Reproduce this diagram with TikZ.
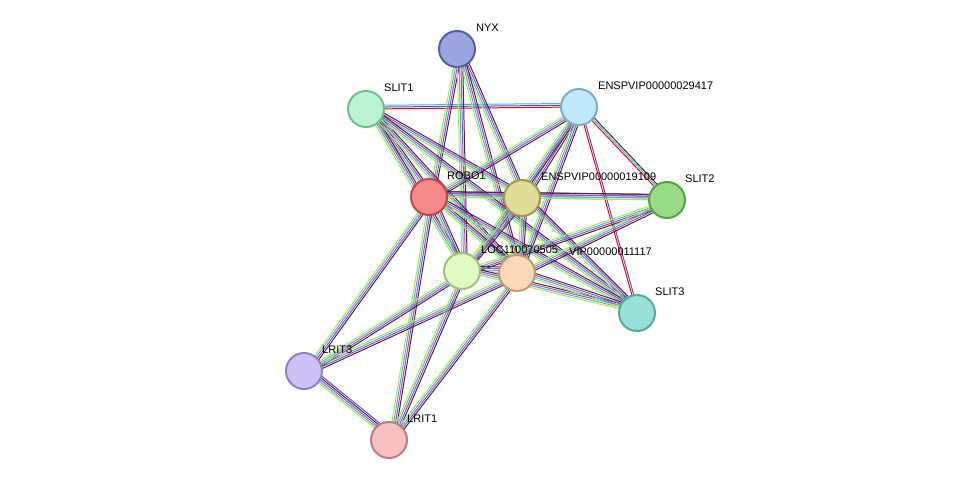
\documentclass[tikz,border=0pt]{standalone}
\usepackage{fontspec}
\setmainfont{Liberation Sans}
\usetikzlibrary{calc}
\pgfdeclarelayer{bg}
\pgfsetlayers{bg,main}
\definecolor{tm}{HTML}{B8E04A}
\definecolor{cu}{HTML}{30C0D8}
\definecolor{ex}{HTML}{D030D0}
\definecolor{co}{HTML}{333333}
\definecolor{ho}{HTML}{5050E0}
\tikzset{
 prot/.style={circle,minimum size=36pt,inner sep=0pt,line width=2pt},
 lab/.style={anchor=west,font=\fontsize{11}{12}\selectfont,inner sep=1pt},
}
\newcommand{\stredge}[3]{%
 \foreach \c [count=\i] in {#3}{%
  \pgfmathsetmacro{\off}{(\i-1)*1.8}%
  \draw[\c,line width=1pt] ($(#1)!\off pt!90:(#2)$) -- ($(#2)!\off pt!-90:(#1)$);}}
\begin{document}
\begin{tikzpicture}[x=1pt,y=-1pt]
\useasboundingbox (0,0) rectangle (975,486);
\node[prot,fill={rgb,255:red,154;green,165;blue,224},draw={rgb,255:red,85;green,96;blue,160}] (nyx) at (457,49) {};
\node[prot,fill={rgb,255:red,184;green,245;blue,212},draw={rgb,255:red,122;green,184;blue,144}] (slit1) at (366,109) {};
\node[prot,fill={rgb,255:red,192;green,232;blue,251},draw={rgb,255:red,128;green,170;blue,200}] (e29) at (579,107) {};
\node[prot,fill={rgb,255:red,244;green,138;blue,138},draw={rgb,255:red,192;green,72;blue,72}] (robo1) at (429,197) {};
\node[prot,fill={rgb,255:red,224;green,220;blue,152},draw={rgb,255:red,160;green,154;blue,80}] (e19) at (522,198) {};
\node[prot,fill={rgb,255:red,152;green,220;blue,136},draw={rgb,255:red,90;green,159;blue,74}] (slit2) at (667,200) {};
\node[prot,fill={rgb,255:red,224;green,252;blue,192},draw={rgb,255:red,160;green,192;blue,128}] (loc) at (462,271) {};
\node[prot,fill={rgb,255:red,252;green,216;blue,184},draw={rgb,255:red,192;green,154;blue,120}] (vip) at (517,273) {};
\node[prot,fill={rgb,255:red,152;green,224;blue,216},draw={rgb,255:red,88;green,168;blue,160}] (slit3) at (637,313) {};
\node[prot,fill={rgb,255:red,208;green,192;blue,248},draw={rgb,255:red,144;green,128;blue,192}] (lrit3) at (304,371) {};
\node[prot,fill={rgb,255:red,248;green,192;blue,192},draw={rgb,255:red,184;green,128;blue,128}] (lrit1) at (389,440) {};
\begin{pgfonlayer}{bg}
\stredge{slit1}{e29}{red,ho,cu}
\stredge{e29}{slit2}{red,cu,co}
\stredge{e29}{slit3}{red,ho}
\stredge{lrit3}{lrit1}{tm,cu,ex,co,ho}
\foreach \a/\b in {nyx/robo1,nyx/e19,nyx/loc,nyx/vip,slit1/robo1,slit1/e19,slit1/loc,slit1/vip,slit1/slit3,
 e29/robo1,e29/e19,e29/loc,e29/vip,robo1/e19,robo1/slit2,robo1/loc,robo1/vip,robo1/slit3,robo1/lrit3,robo1/lrit1,
 e19/slit2,e19/loc,e19/vip,e19/slit3,slit2/loc,slit2/vip,loc/vip,loc/slit3,vip/slit3,loc/lrit3,vip/lrit3,loc/lrit1,vip/lrit1}
 {\stredge{\a}{\b}{tm,cu,ex,co}}
\end{pgfonlayer}
\node[lab] (lnyx) at (475,28) {NYX};
\node[lab] (lslit1) at (383,88) {SLIT1};
\node[lab] (le29) at (597,86) {ENSPVIP00000029417};
\node[lab] (lrobo) at (446,176) {ROBO1};
\node[lab] (le19) at (540,177) {ENSPVIP00000019109};
\node[lab] (lslit2) at (684,179) {SLIT2};
\node[lab] (lloc) at (480,250) {LOC110070505};
\node[lab] (lvip) at (568,252) {VIP00000011117};
\node[lab] (lslit3) at (654,292) {SLIT3};
\node[lab] (llrit3) at (321,350) {LRIT3};
\node[lab] (llrit1) at (406,419) {LRIT1};
\end{tikzpicture}
\end{document}
